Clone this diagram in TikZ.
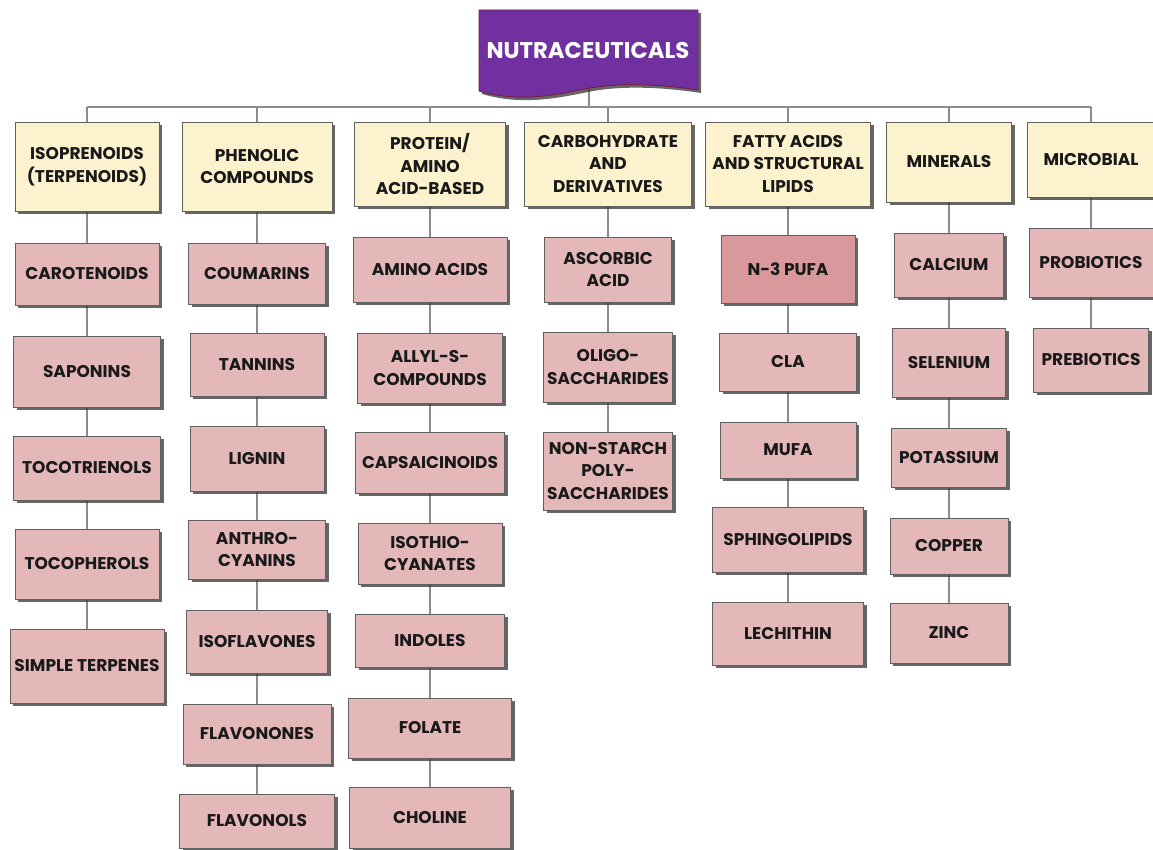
\documentclass[tikz,border=0pt]{standalone}
\usepackage{fontspec}
\setmainfont{Poppins}
\usepackage{tikz}
\usetikzlibrary{positioning, shadows, backgrounds}

\definecolor{cream}{HTML}{FDF2CE}
\definecolor{rose}{HTML}{E4B7B9}
\definecolor{deeprose}{HTML}{D9999C}
\definecolor{grape}{HTML}{7030A0}
\definecolor{wine}{HTML}{7A1E48}
\definecolor{wire}{HTML}{8C8C8C}

\newlength\px
\setlength\px{0.03cm}

\begin{document}
\begin{tikzpicture}[x=0.03cm, y=-0.03cm,
    box/.style={rectangle, draw=gray!75!black, line width=0.7pt, align=center, text=black!90,
        font=\bfseries\fontsize{14.5}{19.5}\selectfont, inner sep=1pt,
        drop shadow={shadow xshift=3\px, shadow yshift=-3\px, fill=black!80, opacity=0.75}},
    cat/.style={box, fill=cream},
    item/.style={box, fill=rose},
    link/.style={draw=wire, line width=1.3pt}]
    \useasboundingbox (0,0) rectangle (1153,850);

    % Title banner
    \path [fill=grape, draw=wine, line width=0.8pt,
        drop shadow={shadow xshift=3\px, shadow yshift=-3\px, fill=black!80, opacity=0.75}]
        (479,10) -- (698,10) -- (698,90)
        .. controls (665,85) and (625,82) .. (590,88)
        .. controls (555,95) and (520,103) .. (479,91) -- cycle;
    \node (top) at (588,50) [text=white, font=\bfseries\fontsize{19.4}{21}\selectfont] {NUTRACEUTICALS};
    \coordinate (stem) at (589,89);
    \coordinate (bar) at (589,107);

    % Class headers
    \node (iso)  at (87,166.5)  [cat, minimum width=144\px, minimum height=89\px] {ISOPRENOIDS\\(TERPENOIDS)};
    \node (phen) at (257,166.5) [cat, minimum width=150\px, minimum height=89\px] {PHENOLIC\\COMPOUNDS};
    \node (prot) at (430,164)   [cat, minimum width=151\px, minimum height=84\px] {PROTEIN/\\AMINO\\ACID-BASED};
    \node (carb) at (608,164)   [cat, minimum width=167\px, minimum height=84\px] {CARBOHYDRATE\\AND\\DERIVATIVES};
    \node (fat)  at (788,164)   [cat, minimum width=165\px, minimum height=84\px] {FATTY ACIDS\\AND STRUCTURAL\\LIPIDS};
    \node (mine) at (949,162)   [cat, minimum width=125\px, minimum height=80\px] {MINERALS};
    \node (micr) at (1091,159.5) [cat, minimum width=128\px, minimum height=75\px] {MICROBIAL};

    % Isoprenoids
    \node (caro)  at (87,274)   [item, minimum width=144\px, minimum height=62\px] {CAROTENOIDS};
    \node (sapo)  at (87,371.5) [item, minimum width=147\px, minimum height=71\px] {SAPONINS};
    \node (tocot) at (87,468)   [item, minimum width=147\px, minimum height=64\px] {TOCOTRIENOLS};
    \node (tocop) at (87,564)   [item, minimum width=144\px, minimum height=70\px] {TOCOPHEROLS};
    \node (simp)  at (87,666)   [item, minimum width=154\px, minimum height=74\px] {SIMPLE TERPENES};

    % Phenolics
    \node (coum) at (257,273.5) [item, minimum width=137\px, minimum height=61\px] {COUMARINS};
    \node (tann) at (257,364.5) [item, minimum width=134\px, minimum height=63\px] {TANNINS};
    \node (lign) at (257,458.5) [item, minimum width=134\px, minimum height=65\px] {LIGNIN};
    \node (anth) at (257,549.5) [item, minimum width=137\px, minimum height=59\px] {ANTHRO-\\CYANINS};
    \node (isof) at (257,641.5) [item, minimum width=141\px, minimum height=63\px] {ISOFLAVONES};
    \node (flvn) at (257,734)   [item, minimum width=148\px, minimum height=60\px] {FLAVONONES};
    \node (flvl) at (257,821)   [item, minimum width=155\px, minimum height=54\px] {FLAVONOLS};

    % Protein / amino acid-based
    \node (amino) at (430,269.5) [item, minimum width=154\px, minimum height=65\px] {AMINO ACIDS};
    \node (ally)  at (430,368)   [item, minimum width=145\px, minimum height=70\px] {ALLYL-S-\\COMPOUNDS};
    \node (caps)  at (430,462.5) [item, minimum width=149\px, minimum height=61\px] {CAPSAICINOIDS};
    \node (isot)  at (430,553.5) [item, minimum width=144\px, minimum height=61\px] {ISOTHIO-\\CYANATES};
    \node (indo)  at (430,640.5) [item, minimum width=149\px, minimum height=53\px] {INDOLES};
    \node (fola)  at (430,728)   [item, minimum width=163\px, minimum height=60\px] {FOLATE};
    \node (chol)  at (430,817.5) [item, minimum width=161\px, minimum height=61\px] {CHOLINE};

    % Carbohydrates
    \node (asco) at (608,269.5) [item, minimum width=127\px, minimum height=65\px] {ASCORBIC\\ACID};
    \node (olig) at (608,367)   [item, minimum width=129\px, minimum height=70\px] {OLIGO-\\SACCHARIDES};
    \node (nons) at (608,471)   [item, minimum width=129\px, minimum height=78\px] {NON-STARCH\\POLY-\\SACCHARIDES};

    % Fatty acids
    \node (pufa) at (788,269)   [item, fill=deeprose, minimum width=134\px, minimum height=68\px] {N-3 PUFA};
    \node (cla)  at (788,362)   [item, minimum width=137\px, minimum height=58\px] {CLA};
    \node (mufa) at (788,450)   [item, minimum width=136\px, minimum height=56\px] {MUFA};
    \node (sphi) at (788,539.5) [item, minimum width=151\px, minimum height=65\px] {SPHINGOLIPIDS};
    \node (lech) at (788,633.5) [item, minimum width=151\px, minimum height=63\px] {LECHITHIN};

    % Minerals
    \node (calc) at (949,265)   [item, minimum width=109\px, minimum height=64\px] {CALCIUM};
    \node (sele) at (949,362.5) [item, minimum width=113\px, minimum height=69\px] {SELENIUM};
    \node (pota) at (949,457.5) [item, minimum width=115\px, minimum height=59\px] {POTASSIUM};
    \node (copp) at (949,546)   [item, minimum width=118\px, minimum height=56\px] {COPPER};
    \node (zinc) at (949,633)   [item, minimum width=118\px, minimum height=60\px] {ZINC};

    % Microbial
    \node (prob) at (1091,262.5) [item, minimum width=124\px, minimum height=69\px] {PROBIOTICS};
    \node (preb) at (1091,360)   [item, minimum width=115\px, minimum height=64\px] {PREBIOTICS};

    % Tree lines
    \begin{scope}[on background layer]
        \draw [link] (stem) -- (bar);
        \draw [link] (iso.north |- bar) -- (micr.north |- bar);
        \foreach \h in {iso, phen, prot, carb, fat, mine, micr}
            \draw [link] (\h.north |- bar) -- (\h.north);
        \foreach \a/\b in {iso/caro, caro/sapo, sapo/tocot, tocot/tocop, tocop/simp,
                phen/coum, coum/tann, tann/lign, lign/anth, anth/isof, isof/flvn, flvn/flvl,
                prot/amino, amino/ally, ally/caps, caps/isot, isot/indo, indo/fola, fola/chol,
                carb/asco, asco/olig, olig/nons,
                fat/pufa, pufa/cla, cla/mufa, mufa/sphi, sphi/lech,
                mine/calc, calc/sele, sele/pota, pota/copp, copp/zinc,
                micr/prob, prob/preb}
            \draw [link] (\a) -- (\b);
    \end{scope}
\end{tikzpicture}
\end{document}
